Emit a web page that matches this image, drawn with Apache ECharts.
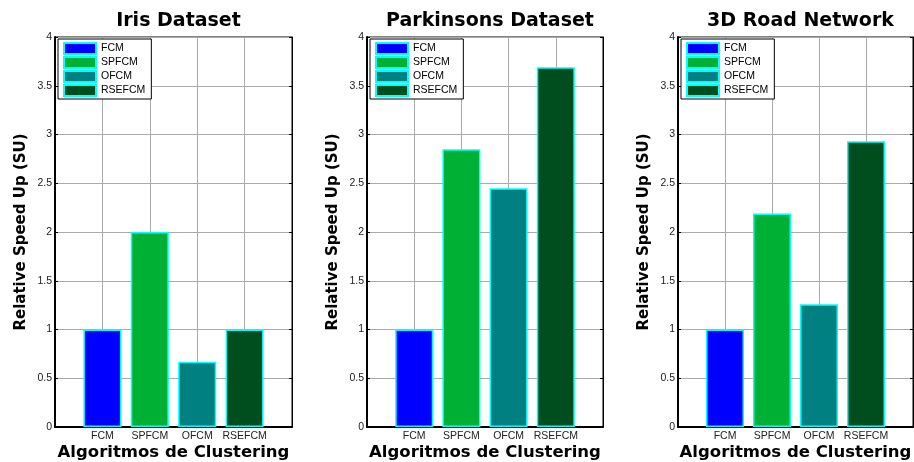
<!DOCTYPE html>
<html>
<head>
<meta charset="utf-8">
<script src="https://cdn.jsdelivr.net/npm/echarts@6/dist/echarts.min.js"></script>
<style>
  html, body { margin: 0; padding: 0; background: #fff; }
  #echarts { width: 914px; height: 462px; }
</style>
</head>
<body>
<div id="echarts"></div>
<script>
// datos
var categories = ['FCM', 'SPFCM', 'OFCM', 'RSEFCM'];
var titles = ['Iris Dataset', 'Parkinsons Dataset', '3D Road Network'];
var irisValues = [1, 2, 0.67, 1];
var parkinsonsValues = [1, 2.85, 2.45, 3.69];
var roadValues = [1, 2.19, 1.26, 2.93];
var yTickLabels = ['0', '0.5', '1', '1.5', '2', '2.5', '3', '3.5', '4'];

var panelValues = [irisValues, parkinsonsValues, roadValues];
var barColors = ['#0000FF', '#00B035', '#008080', '#004D1E'];
var gridLefts = [55, 367, 678];
var gridWidths = [237, 236, 235];

var regular = 'Arial, "Liberation Sans", sans-serif';
var bold = '"DejaVu Sans", Arial, sans-serif';

var myChart = echarts.init(document.getElementById('echarts'));

function buildOption() {
  var axisData = [''].concat(categories).concat(['']);
  var title = [], grid = [], xAxis = [], yAxis = [], legend = [], series = [];

  titles.forEach(function (t, p) {
    var left = gridLefts[p], w = gridWidths[p];
    title.push({
      text: t,
      left: left + w / 2,
      textAlign: 'center',
      top: 7,
      textStyle: { fontFamily: bold, fontWeight: 'bold', fontSize: 19, color: '#000' }
    });
    grid.push({
      left: left, top: 37, width: w, height: 390,
      outerBoundsMode: 'none',
      containLabel: false,
      show: true, borderColor: '#000', borderWidth: 1, backgroundColor: '#fff'
    });
    xAxis.push({
      type: 'category',
      gridIndex: p,
      data: axisData,
      boundaryGap: false,
      name: 'Algoritmos de Clustering',
      nameLocation: 'middle',
      nameGap: 17,
      nameMoveOverlap: false,
      nameTextStyle: { fontFamily: bold, fontWeight: 'bold', fontSize: 16.5, color: '#000' },
      axisLine: { show: true, lineStyle: { color: '#000', width: 2 } },
      axisTick: { show: false },
      axisLabel: { interval: 0, margin: 4, fontFamily: regular, fontSize: 10.5, color: '#222' },
      splitLine: { show: true, lineStyle: { color: '#aaa', width: 1 } }
    });
    yAxis.push({
      type: 'value',
      gridIndex: p,
      min: 0, max: 4, interval: 0.5,
      name: 'Relative Speed Up (SU)',
      nameLocation: 'middle',
      nameGap: 26,
      nameMoveOverlap: false,
      nameTextStyle: { fontFamily: bold, fontWeight: 'bold', fontSize: 15, color: '#000' },
      axisLine: { show: true, lineStyle: { color: '#000', width: 2 } },
      axisTick: { show: true, inside: true, length: 3, lineStyle: { color: '#000' } },
      axisLabel: {
        margin: 3, fontFamily: regular, fontSize: 10.5, color: '#222',
        formatter: function (v) { return yTickLabels[Math.round(v * 2)]; }
      },
      splitLine: { show: true, lineStyle: { color: '#aaa', width: 1 } }
    });
    // lado derecho, solo marcas
    yAxis.push({
      type: 'value',
      gridIndex: p,
      position: 'right',
      min: 0, max: 4, interval: 0.5,
      axisLine: { show: true, lineStyle: { color: '#000', width: 1 } },
      axisTick: { show: true, inside: true, length: 3, lineStyle: { color: '#000' } },
      axisLabel: { show: false },
      splitLine: { show: false }
    });
    legend.push({
      orient: 'vertical',
      left: left + 3,
      top: 39,
      data: categories,
      icon: 'rect',
      itemWidth: 32,
      itemHeight: 11,
      itemGap: 1,
      padding: [3, 6, 2, 5],
      borderColor: '#000',
      borderWidth: 1,
      borderRadius: 0,
      backgroundColor: '#fff',
      selectedMode: false,
      textStyle: { fontFamily: regular, fontSize: 10.5, color: '#000', lineHeight: 11 }
    });
    var vals = panelValues[p];
    categories.forEach(function (c, i) {
      series.push({
        name: c,
        type: 'bar',
        xAxisIndex: p,
        yAxisIndex: p * 2,
        barWidth: 38,
        barGap: '-100%',
        itemStyle: { color: barColors[i], borderColor: '#00FFFF', borderWidth: 1.5 },
        data: axisData.map(function (a, j) { return j === i + 1 ? vals[i] : '-'; })
      });
    });
  });

  return {
    backgroundColor: '#fff',
    animation: false,
    title: title,
    grid: grid,
    legend: legend,
    xAxis: xAxis,
    yAxis: yAxis,
    series: series
  };
}

myChart.setOption(buildOption());
</script>
</body>
</html>
